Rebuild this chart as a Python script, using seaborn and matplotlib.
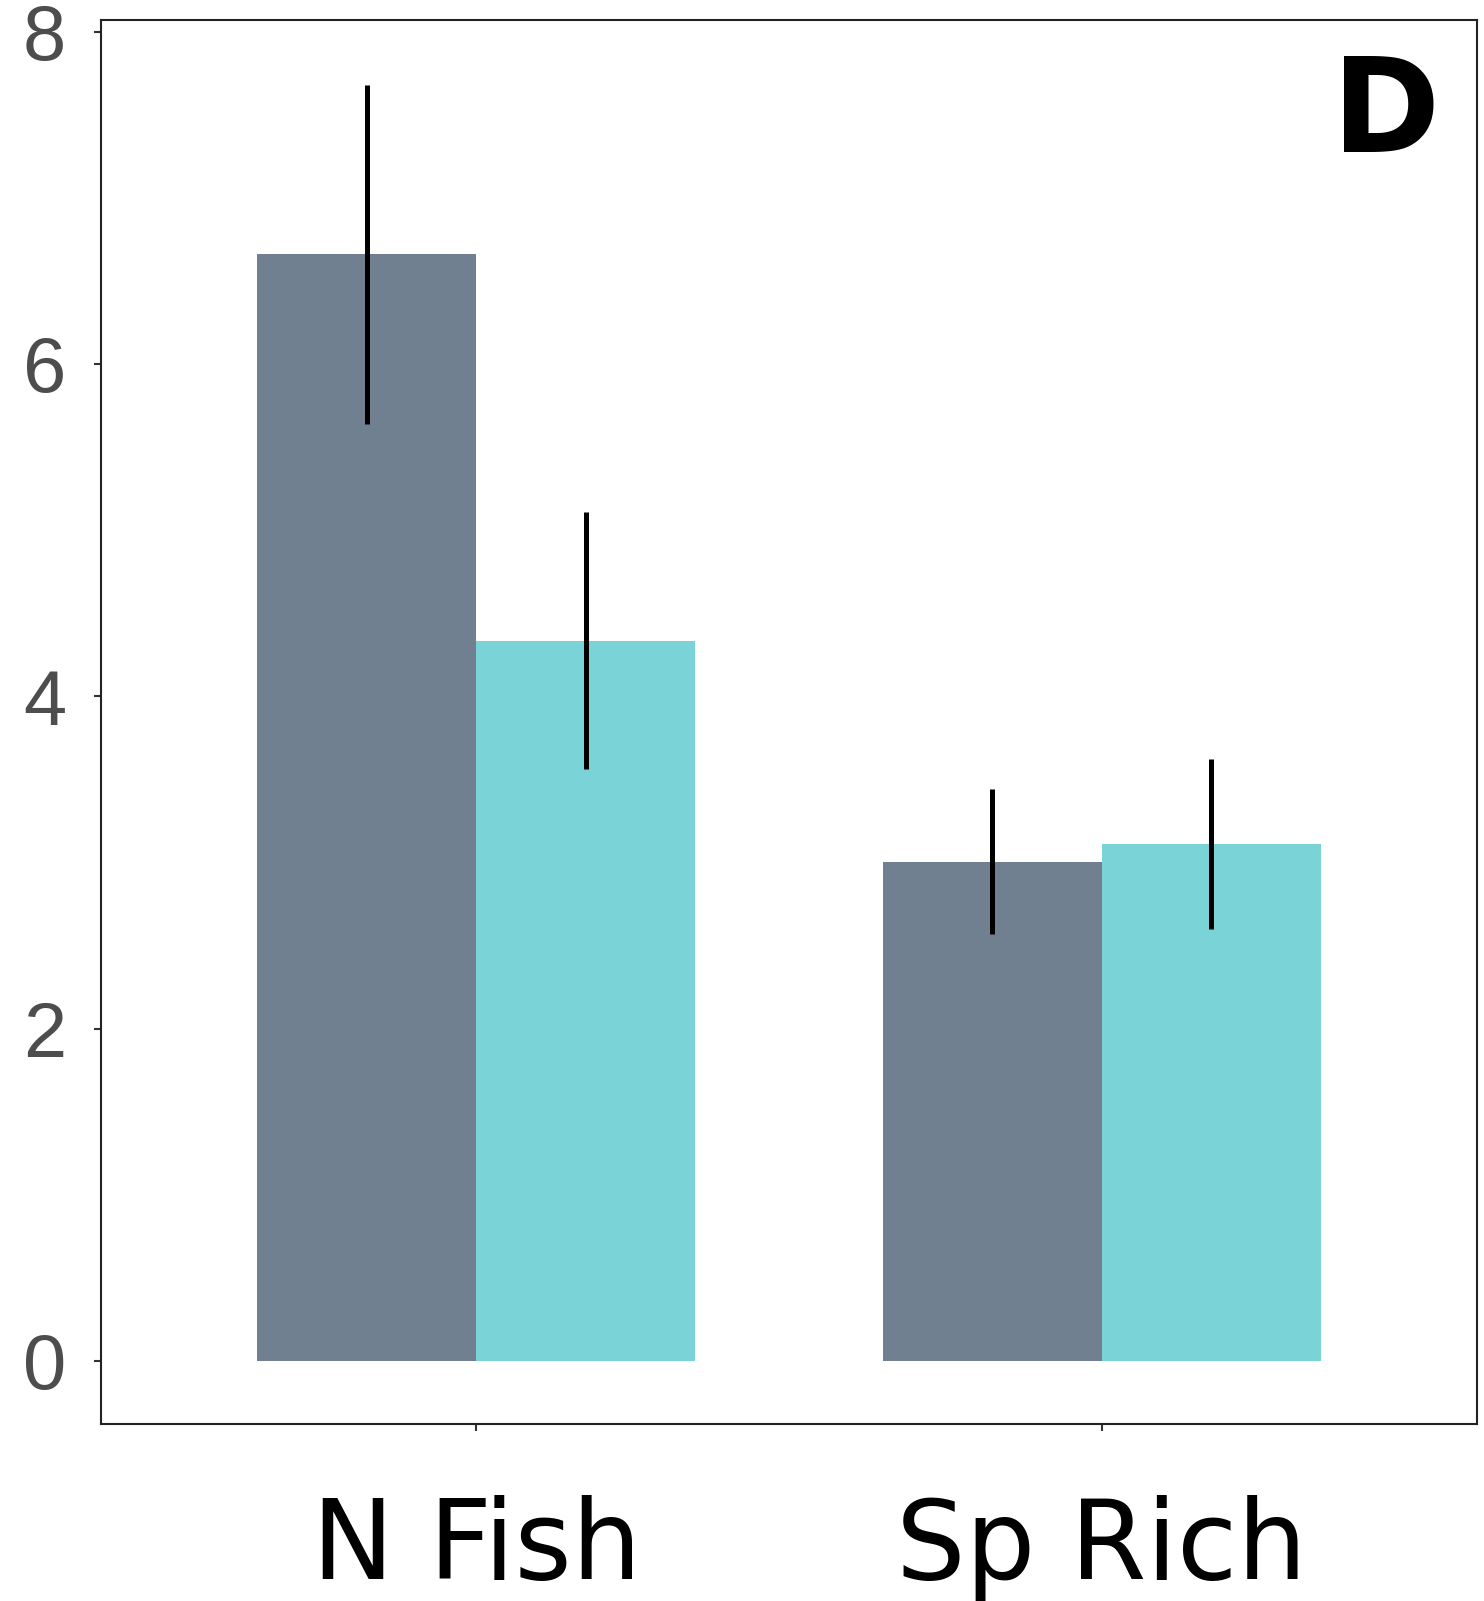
import numpy as np
import pandas as pd
import matplotlib
matplotlib.use("Agg")
import matplotlib.pyplot as plt
import seaborn as sns

categories = ["N Fish", "Sp Rich"]
groups = ["Group 1", "Group 2"]
means_g1 = [6.66, 3.00]
means_g2 = [4.33, 3.11]
lower_g1 = [5.64, 2.57]
upper_g1 = [7.68, 3.44]
lower_g2 = [3.56, 2.60]
upper_g2 = [5.11, 3.62]
y_ticks = [0, 2, 4, 6, 8]

palette = {"Group 1": "#708090", "Group 2": "#79D3D7"}

df = pd.DataFrame({
    "category": categories * 2,
    "group": [groups[0]] * 2 + [groups[1]] * 2,
    "mean": means_g1 + means_g2,
    "lo": lower_g1 + lower_g2,
    "hi": upper_g1 + upper_g2,
})

sns.set_style("white")
fig = plt.figure(figsize=(14.84, 16.01), dpi=100)
ax = fig.add_axes([101 / 1484, 1 - 1424 / 1601, 1376 / 1484, 1404 / 1601])

sns.barplot(data=df, x="category", y="mean", hue="group", order=categories,
            hue_order=groups, palette=palette, width=0.7, saturation=1,
            errorbar=None, legend=False, linewidth=0, ax=ax)

# error bars at bar centres
for container, grp in zip(ax.containers, groups):
    sub = df[df["group"] == grp].set_index("category").loc[categories]
    xs = [p.get_x() + p.get_width() / 2 for p in container.patches]
    ax.vlines(xs, sub["lo"], sub["hi"], color="black", linewidth=3.6)

ax.set_xlim(-0.6, 1.6)
ax.set_ylim(-0.38, 8.07)
ax.set_yticks(y_ticks)
ax.set_yticklabels([str(t) for t in y_ticks], fontsize=56, color="#4D4D4D",
                   family=["Liberation Sans", "DejaVu Sans"])
ax.set_xticks(range(len(categories)))
ax.set_xticklabels(categories, fontsize=79, color="black", family="DejaVu Sans")
ax.set_xlabel("")
ax.set_ylabel("")
ax.tick_params(axis="y", length=5, width=1.5, color="#333333", pad=20, left=True)
ax.tick_params(axis="x", length=5, width=1.5, color="#333333", pad=46, bottom=True)
for s in ax.spines.values():
    s.set_linewidth(1.5)
    s.set_color("#222222")

ax.text(0.934, 0.932, "D", transform=ax.transAxes, fontsize=94, fontweight="bold",
        color="black", ha="center", va="center", family="DejaVu Sans")

fig.savefig("out.png", dpi=100)
